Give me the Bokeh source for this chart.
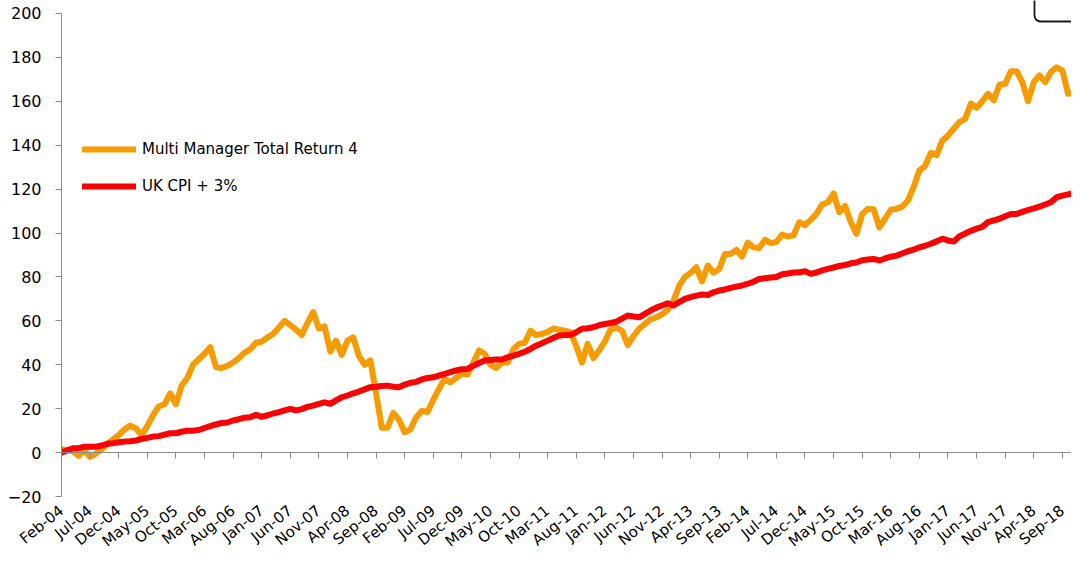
import math
from bokeh.plotting import figure
from bokeh.models import (Range1d, LinearAxis, FixedTicker, SingleIntervalTicker,
                          Legend, LegendItem, ColumnDataSource, BoxAnnotation)
from bokeh.embed import file_html
from bokeh.resources import INLINE

# ---------------- data ----------------
tick_labels = ["Feb-04", "Jul-04", "Dec-04", "May-05", "Oct-05", "Mar-06", "Aug-06",
               "Jan-07", "Jun-07", "Nov-07", "Apr-08", "Sep-08", "Feb-09", "Jul-09",
               "Dec-09", "May-10", "Oct-10", "Mar-11", "Aug-11", "Jan-12", "Jun-12",
               "Nov-12", "Apr-13", "Sep-13", "Feb-14", "Jul-14", "Dec-14", "May-15",
               "Oct-15", "Mar-16", "Aug-16", "Jan-17", "Jun-17", "Nov-17", "Apr-18",
               "Sep-18"]
tick_step_months = 5

multi_manager = [
    1.5, 1.0, 0.5, -1.5, 1.0, -2.0, -0.5, 1.5, 4.0, 6.0,
    8.0, 10.5, 12.3, 11.0, 8.0, 12.0, 17.0, 21.0, 22.0, 27.0,
    22.0, 30.5, 34.0, 40.0, 42.5, 45.0, 48.0, 39.0, 38.5, 39.5,
    41.0, 43.0, 45.5, 47.0, 50.0, 50.5, 52.5, 54.0, 57.0, 60.0,
    58.0, 56.0, 53.5, 59.0, 64.0, 56.5, 57.5, 46.0, 51.0, 44.5,
    51.0, 52.5, 44.0, 40.0, 42.0, 27.0, 11.3, 11.3, 18.0, 15.0,
    9.3, 10.5, 16.0, 19.0, 18.5, 24.0, 29.0, 33.5, 32.0, 34.0,
    36.0, 35.5, 41.0, 46.5, 45.0, 40.0, 38.5, 41.0, 41.0, 47.0,
    49.5, 50.0, 55.5, 53.5, 54.0, 55.0, 56.5, 56.0, 55.5, 54.8,
    48.5, 41.0, 49.5, 43.0, 46.5, 50.5, 56.0, 57.0, 55.5, 49.0,
    53.0, 56.5, 58.5, 60.7, 61.6, 63.0, 65.0, 69.0, 76.0, 80.0,
    81.8, 84.4, 78.0, 85.2, 82.0, 83.5, 90.5, 90.5, 92.3, 89.3,
    95.6, 93.5, 93.2, 96.9, 95.4, 96.0, 99.3, 98.4, 99.0, 104.9,
    103.6, 106.0, 108.7, 113.0, 114.0, 118.0, 109.5, 112.3, 105.0, 99.6,
    108.7, 111.0, 110.8, 102.6, 106.5, 110.6, 111.0, 112.0, 114.8, 121.0,
    128.5, 130.5, 136.5, 135.5, 142.0, 144.4, 147.5, 150.5, 152.0, 159.0,
    157.0, 160.0, 163.4, 160.4, 167.5, 168.0, 173.7, 173.7, 168.7, 160.0,
    168.7, 171.8, 168.7, 173.3, 175.5, 174.0, 163.4, 164.1, 158.0,
]

uk_cpi_plus3 = [
    0.0, 1.0, 2.0, 2.0, 2.7, 2.7, 2.7, 3.2, 4.0, 4.3,
    4.7, 5.0, 5.2, 5.5, 6.2, 6.7, 7.3, 7.5, 8.2, 8.8,
    8.8, 9.5, 10.0, 10.0, 10.3, 11.2, 12.0, 12.8, 13.5, 13.7,
    14.6, 15.2, 15.9, 16.1, 17.2, 16.3, 17.0, 17.8, 18.4, 19.2,
    19.9, 19.2, 19.8, 20.8, 21.4, 22.2, 22.9, 22.2, 23.8, 25.2,
    26.0, 27.0, 27.8, 28.8, 29.8, 30.0, 30.3, 30.5, 30.0, 29.8,
    31.0, 31.8, 32.2, 33.3, 34.0, 34.3, 35.1, 35.8, 36.6, 37.4,
    38.0, 38.1, 39.5, 40.8, 41.9, 42.2, 42.4, 42.4, 43.4, 44.2,
    45.0, 45.9, 47.2, 48.7, 49.8, 51.0, 52.2, 53.3, 53.5, 53.6,
    54.8, 56.4, 56.6, 57.1, 58.0, 58.6, 59.0, 59.6, 61.0, 62.4,
    62.0, 61.6, 63.2, 64.7, 66.0, 67.0, 68.0, 67.0, 68.5, 70.0,
    70.8, 71.5, 72.0, 71.8, 73.0, 73.8, 74.3, 75.0, 75.6, 76.1,
    76.9, 77.8, 79.1, 79.4, 79.7, 80.0, 81.2, 81.6, 82.0, 82.1,
    82.6, 81.4, 82.0, 83.0, 83.7, 84.3, 85.0, 85.4, 86.2, 86.6,
    87.6, 87.9, 88.2, 87.5, 88.4, 89.2, 89.7, 90.7, 91.7, 92.4,
    93.5, 94.2, 95.1, 96.2, 97.4, 96.6, 96.1, 98.5, 99.8, 101.0,
    102.0, 102.8, 105.0, 105.8, 106.5, 107.6, 108.7, 108.7, 109.6, 110.5,
    111.2, 112.0, 113.0, 114.0, 116.3, 117.0, 117.6, 118.3, 118.8,
]

series_names = ["Multi Manager Total Return 4", "UK CPI + 3%"]
series_colors = ["#F79B00", "#FF0000"]

# ---------------- figure ----------------
month_index = list(range(len(multi_manager)))
tick_positions = [tick_step_months * k for k in range(len(tick_labels))]

FONT = "DejaVu Sans"
AXIS_GRAY = "#8A8A8A"

p = figure(width=1071, height=562,
           x_range=Range1d(0, 176.6), y_range=Range1d(-20, 205.9),
           x_axis_type=None, output_backend="svg", toolbar_location=None,
           min_border_left=61, min_border_right=0, min_border_top=0,
           min_border_bottom=66)
p.outline_line_color = None
p.grid.visible = False
p.background_fill_color = "white"
p.border_fill_color = "white"

# y axis
ya = p.yaxis[0]
ya.ticker = SingleIntervalTicker(interval=20)
ya.bounds = (-20, 200)
ya.axis_line_color = AXIS_GRAY
ya.major_tick_line_color = AXIS_GRAY
ya.major_tick_out = 6
ya.major_tick_in = 0
ya.minor_tick_line_color = None
ya.major_label_text_font = FONT
ya.major_label_text_font_size = "16px"
ya.major_label_text_color = "#000000"
ya.major_label_standoff = 14

# x axis labels at the bottom
label_axis = LinearAxis(ticker=FixedTicker(ticks=tick_positions))
label_axis.major_label_overrides = {t: lab for t, lab in zip(tick_positions, tick_labels)}
label_axis.axis_line_color = None
label_axis.major_tick_line_color = None
label_axis.minor_tick_line_color = None
label_axis.major_tick_out = 0
label_axis.major_tick_in = 0
label_axis.major_label_orientation = 0.68
label_axis.major_label_standoff = 12
label_axis.major_label_text_font = FONT
label_axis.major_label_text_font_size = "15px"
label_axis.major_label_text_color = "#000000"
p.add_layout(label_axis, "below")

# x axis line with ticks crossing at y = 0
zero_axis = LinearAxis(ticker=FixedTicker(ticks=tick_positions), fixed_location=0)
zero_axis.axis_line_color = AXIS_GRAY
zero_axis.major_tick_line_color = AXIS_GRAY
zero_axis.major_tick_out = 6
zero_axis.major_tick_in = 0
zero_axis.minor_tick_line_color = None
zero_axis.major_label_text_font_size = "1px"
zero_axis.major_label_text_color = None
zero_axis.major_label_standoff = 0
p.add_layout(zero_axis, "below")

src = ColumnDataSource(dict(x=month_index, mm=multi_manager, cpi=uk_cpi_plus3))
r_mm = p.line("x", "mm", source=src, line_color=series_colors[0], line_width=6,
              line_join="round", line_cap="round")
r_cpi = p.line("x", "cpi", source=src, line_color=series_colors[1], line_width=6,
               line_join="round", line_cap="round")

legend = Legend(items=[LegendItem(label=series_names[0], renderers=[r_mm]),
                       LegendItem(label=series_names[1], renderers=[r_cpi])],
                location=(21, 300), orientation="vertical")
legend.border_line_color = None
legend.background_fill_alpha = 0
legend.padding = 0
legend.margin = 0
legend.spacing = 17
legend.glyph_width = 54
legend.glyph_height = 20
legend.label_height = 20
legend.label_standoff = 6
legend.label_text_font = FONT
legend.label_text_font_size = "15px"
legend.label_text_color = "#000000"
legend.label_text_baseline = "middle"
p.add_layout(legend, "center")

# partially visible rounded box at the top right corner
corner_box = BoxAnnotation(left=1034, right=1120, top=-20, bottom=21,
                           left_units="canvas", right_units="canvas",
                           bottom_units="canvas", top_units="canvas",
                           fill_color=None, line_color="#1A1A1A", line_alpha=1.0,
                           line_width=1.8, border_radius=6)
p.add_layout(corner_box)

open("out.html", "w").write(file_html(p, INLINE))
